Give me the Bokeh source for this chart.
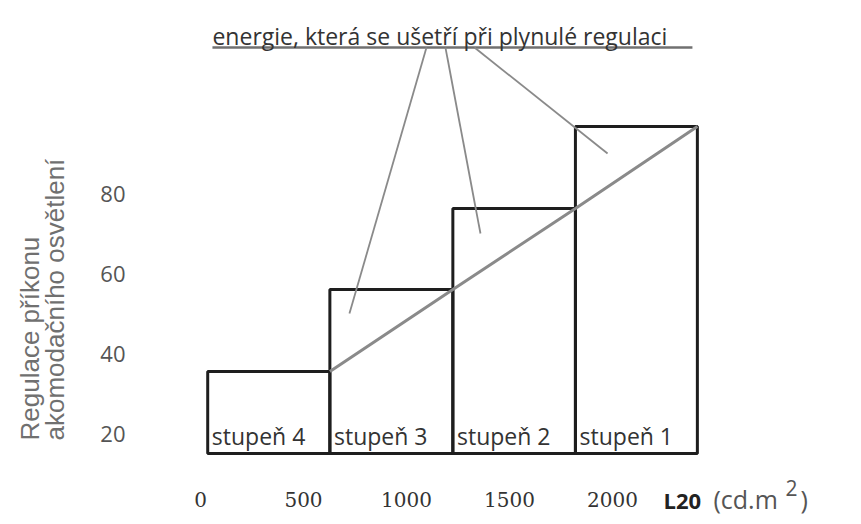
import math
from bokeh.plotting import figure
from bokeh.models import Label, Range1d, ColumnDataSource
from bokeh.core.properties import value
from bokeh.embed import file_html
from bokeh.resources import INLINE

# ---- data ----
x_ticks = [0, 500, 1000, 1500, 2000]
y_ticks = [20, 40, 60, 80]
step_names = ["stupeň 4", "stupeň 3", "stupeň 2", "stupeň 1"]
step_left = [35, 628, 1225, 1820]
step_right = [628, 1225, 1820, 2412]
step_top = [35.5, 56, 76.25, 96.75]
step_base = [15, 15, 15, 15]
smooth_x = [628, 1225, 1820, 2412]
smooth_y = [35.5, 56, 76.25, 96.75]
title_text = "energie, která se ušetří při plynulé regulaci"
underline_x = [58, 2388]
underline_y = [116.5, 116.5]
leader_x0 = [1097, 1189, 1330]
leader_y0 = [116.5, 116.5, 116.5]
leader_x1 = [723, 1359, 1976]
leader_y1 = [50, 70, 90]
ylabel_lines = ["Regulace příkonu", "akomodačního osvětlení"]
xlabel_parts = ["L20", "(cd.m", "2", ")"]

# ---- placement (data units of the shared scales) ----
TITLE_X, TITLE_Y = 58, 119.5
YTICK_LABEL_X = -364
XTICK_LABEL_Y = 3.5
YLABEL_X = [-830, -704]
YLABEL_Y = 18.25
XLABEL_X = [2248, 2490, 2840, 2913]
XLABEL_Y = [3.5, 3.75, 6.5, 3.75]
STEP_LABEL_DX = 20
STEP_LABEL_Y = 19.5

FONT = "Open Sans"

p = figure(width=853, height=516, output_backend="svg", toolbar_location=None,
           x_range=Range1d(-970.9, 3169.9), y_range=Range1d(-0.75, 128.25),
           x_axis_location=None, y_axis_location=None, min_border=0)
p.outline_line_color = None
p.xgrid.visible = False
p.ygrid.visible = False
p.background_fill_color = "white"
p.border_fill_color = "white"

# axis tick labels (placed through the scales)
p.text(x=x_ticks, y=[XTICK_LABEL_Y] * len(x_ticks), text=[str(t) for t in x_ticks],
       text_font=value("DejaVu Serif"), text_font_size="20px", text_color="#333333",
       text_align="center", text_baseline="middle")
p.text(x=[YTICK_LABEL_X] * len(y_ticks), y=y_ticks, text=[str(t) for t in y_ticks],
       text_font=value(FONT), text_font_size="22px", text_color="#555555",
       text_align="right", text_baseline="middle")

# boxes
p.quad(left=step_left, right=step_right, top=step_top, bottom=step_base,
       fill_color=None, line_color="#1e1e1e", line_width=3)

# smooth regulation line
p.line(smooth_x, smooth_y, line_color="#8a8a8a", line_width=3)

# title underline and leader lines
p.line(underline_x, underline_y, line_color="#707070", line_width=2.5)
p.segment(x0=leader_x0, y0=leader_y0, x1=leader_x1, y1=leader_y1,
          line_color="#8a8a8a", line_width=1.8)

# step labels
src = ColumnDataSource(dict(x=[l + STEP_LABEL_DX for l in step_left],
                            y=[STEP_LABEL_Y] * len(step_left), t=step_names))
p.text(x="x", y="y", text="t", source=src, text_font=value(FONT),
       text_font_size="23px", text_color="#333333", text_baseline="alphabetic",
       text_align="left")

# title
p.add_layout(Label(x=TITLE_X, y=TITLE_Y, text=title_text,
                   text_font=FONT, text_font_size="23px", text_color="#333333",
                   text_baseline="alphabetic", text_align="left"))

# y label (two lines, rotated, starting at the bottom)
for t, xx in zip(ylabel_lines, YLABEL_X):
    p.add_layout(Label(x=xx, y=YLABEL_Y, text=t, angle=math.pi / 2,
                       text_font="Liberation Sans", text_font_size="26px",
                       text_color="#707070", text_baseline="middle",
                       text_align="left"))

# x label: bold "L20", then unit with superscript 2
styles = [("bold", "22px", "#222222"), ("normal", "25px", "#555555"),
          ("normal", "21px", "#555555"), ("normal", "25px", "#555555")]
for t, xx, yy, (fs, sz, col) in zip(xlabel_parts, XLABEL_X, XLABEL_Y, styles):
    p.add_layout(Label(x=xx, y=yy, text=t, text_font=FONT, text_font_style=fs,
                       text_font_size=sz, text_color=col,
                       text_baseline="middle", text_align="left"))

open("out.html", "w").write(file_html(p, INLINE))
